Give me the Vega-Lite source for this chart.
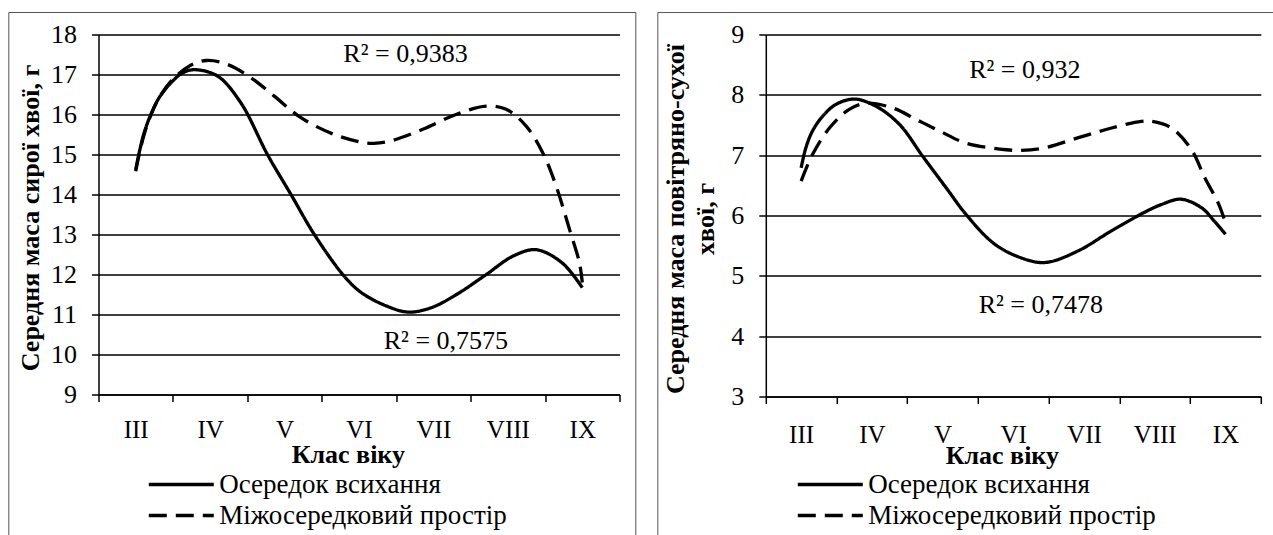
{
  "$schema": "https://vega.github.io/schema/vega-lite/v6.json",
  "padding": {"left": 7.5, "top": 11.5, "right": 0, "bottom": 0},
  "background": "white",
  "bounds": "flush",
  "spacing": 146.3,
  "config": {
    "view": {"stroke": null},
    "font": "Liberation Serif",
    "axis": {"labelFont": "Liberation Serif", "titleFont": "Liberation Serif", "labelColor": "black", "titleColor": "black", "tickColor": "black", "tickWidth": 1.5, "domainColor": "black", "domainWidth": 1.5, "gridColor": "black", "gridWidth": 1.5, "gridOpacity": 1},
    "legend": {"symbolType": "M-2.5,0L2.5,0", "symbolSize": 676, "symbolStrokeWidth": 3.3, "symbolStrokeColor": "black", "symbolFillColor": "transparent", "labelFont": "Liberation Serif", "labelFontSize": 27, "labelColor": "black", "labelOffset": 23, "rowPadding": 3, "padding": 0, "labelLimit": 0}
  },
  "datasets": {
    "fresh": [
      {"series": "Осередок всихання", "class": 3.0, "value": 14.62},
      {"series": "Осередок всихання", "class": 3.046, "value": 15.04},
      {"series": "Осередок всихання", "class": 3.113, "value": 15.54},
      {"series": "Осередок всихання", "class": 3.203, "value": 16.0},
      {"series": "Осередок всихання", "class": 3.315, "value": 16.42},
      {"series": "Осередок всихання", "class": 3.472, "value": 16.79},
      {"series": "Осередок всихання", "class": 3.63, "value": 17.04},
      {"series": "Осередок всихання", "class": 3.785, "value": 17.12},
      {"series": "Осередок всихання", "class": 4.1, "value": 16.96},
      {"series": "Осередок всихання", "class": 4.413, "value": 16.29},
      {"series": "Осередок всихання", "class": 4.77, "value": 15.0},
      {"series": "Осередок всихання", "class": 5.086, "value": 14.0},
      {"series": "Осередок всихання", "class": 5.4, "value": 13.0},
      {"series": "Осередок всихання", "class": 5.8, "value": 11.96},
      {"series": "Осередок всихання", "class": 6.03, "value": 11.55},
      {"series": "Осередок всихання", "class": 6.36, "value": 11.22},
      {"series": "Осередок всихання", "class": 6.66, "value": 11.06},
      {"series": "Осередок всихання", "class": 6.97, "value": 11.17},
      {"series": "Осередок всихання", "class": 7.31, "value": 11.5},
      {"series": "Осередок всихання", "class": 7.71, "value": 12.0},
      {"series": "Осередок всихання", "class": 8.07, "value": 12.46},
      {"series": "Осередок всихання", "class": 8.38, "value": 12.62},
      {"series": "Осередок всихання", "class": 8.73, "value": 12.29},
      {"series": "Осередок всихання", "class": 9.0, "value": 11.67},
      {"series": "Міжосередковий простір", "class": 3.0, "value": 14.58},
      {"series": "Міжосередковий простір", "class": 3.046, "value": 15.0},
      {"series": "Міжосередковий простір", "class": 3.113, "value": 15.5},
      {"series": "Міжосередковий простір", "class": 3.203, "value": 15.98},
      {"series": "Міжосередковий простір", "class": 3.315, "value": 16.42},
      {"series": "Міжосередковий простір", "class": 3.472, "value": 16.83},
      {"series": "Міжосередковий простір", "class": 3.718, "value": 17.21},
      {"series": "Міжосередковий простір", "class": 3.95, "value": 17.35},
      {"series": "Міжосередковий простір", "class": 4.235, "value": 17.25},
      {"series": "Міжосередковий простір", "class": 4.548, "value": 16.92},
      {"series": "Міжосередковий простір", "class": 4.861, "value": 16.46},
      {"series": "Міжосередковий простір", "class": 5.22, "value": 15.92},
      {"series": "Міжосередковий простір", "class": 5.668, "value": 15.5},
      {"series": "Міжосередковий простір", "class": 6.027, "value": 15.31},
      {"series": "Міжосередковий простір", "class": 6.2, "value": 15.28},
      {"series": "Міжосередковий простір", "class": 6.407, "value": 15.33},
      {"series": "Міжосередковий простір", "class": 6.857, "value": 15.63},
      {"series": "Міжосередковий простір", "class": 7.304, "value": 16.0},
      {"series": "Міжосередковий простір", "class": 7.71, "value": 16.21},
      {"series": "Міжосередковий простір", "class": 7.977, "value": 16.13},
      {"series": "Міжосередковий простір", "class": 8.246, "value": 15.71},
      {"series": "Міжосередковий простір", "class": 8.47, "value": 15.04},
      {"series": "Міжосередковий простір", "class": 8.649, "value": 14.21},
      {"series": "Міжосередковий простір", "class": 8.828, "value": 13.13},
      {"series": "Міжосередковий простір", "class": 8.962, "value": 12.29},
      {"series": "Міжосередковий простір", "class": 9.0, "value": 11.8}
    ],
    "dry": [
      {"series": "Осередок всихання", "class": 3.0, "value": 6.79},
      {"series": "Осередок всихання", "class": 3.066, "value": 7.12},
      {"series": "Осередок всихання", "class": 3.16, "value": 7.4},
      {"series": "Осередок всихання", "class": 3.3, "value": 7.64},
      {"series": "Осередок всихання", "class": 3.49, "value": 7.84},
      {"series": "Осередок всихання", "class": 3.75, "value": 7.93},
      {"series": "Осередок всихання", "class": 4.06, "value": 7.81},
      {"series": "Осередок всихання", "class": 4.39, "value": 7.51},
      {"series": "Осередок всихання", "class": 4.72, "value": 6.98},
      {"series": "Осередок всихання", "class": 5.05, "value": 6.46},
      {"series": "Осередок всихання", "class": 5.33, "value": 6.02},
      {"series": "Осередок всихання", "class": 5.71, "value": 5.55},
      {"series": "Осередок всихання", "class": 6.04, "value": 5.33},
      {"series": "Осередок всихання", "class": 6.44, "value": 5.22},
      {"series": "Осередок всихання", "class": 6.91, "value": 5.41},
      {"series": "Осередок всихання", "class": 7.38, "value": 5.74},
      {"series": "Осередок всихання", "class": 7.85, "value": 6.05},
      {"series": "Осередок всихання", "class": 8.09, "value": 6.18},
      {"series": "Осередок всихання", "class": 8.37, "value": 6.27},
      {"series": "Осередок всихання", "class": 8.66, "value": 6.13},
      {"series": "Осередок всихання", "class": 8.84, "value": 5.91},
      {"series": "Осередок всихання", "class": 9.0, "value": 5.69},
      {"series": "Міжосередковий простір", "class": 3.0, "value": 6.57},
      {"series": "Міжосередковий простір", "class": 3.16, "value": 7.01},
      {"series": "Міжосередковий простір", "class": 3.4, "value": 7.45},
      {"series": "Міжосередковий простір", "class": 3.68, "value": 7.76},
      {"series": "Міжосередковий простір", "class": 3.92, "value": 7.86},
      {"series": "Міжосередковий простір", "class": 4.3, "value": 7.78},
      {"series": "Міжосередковий простір", "class": 4.63, "value": 7.59},
      {"series": "Міжосередковий простір", "class": 4.96, "value": 7.4},
      {"series": "Міжосередковий простір", "class": 5.33, "value": 7.2},
      {"series": "Міжосередковий простір", "class": 5.9, "value": 7.09},
      {"series": "Міжосередковий простір", "class": 6.11, "value": 7.08},
      {"series": "Міжосередковий простір", "class": 6.44, "value": 7.12},
      {"series": "Міжосередковий простір", "class": 6.92, "value": 7.29},
      {"series": "Міжосередковий простір", "class": 7.39, "value": 7.45},
      {"series": "Міжосередковий простір", "class": 7.81, "value": 7.56},
      {"series": "Міжосередковий простір", "class": 7.96, "value": 7.56},
      {"series": "Міжосередковий простір", "class": 8.24, "value": 7.45},
      {"series": "Міжосередковий простір", "class": 8.52, "value": 7.09},
      {"series": "Міжосередковий простір", "class": 8.71, "value": 6.62},
      {"series": "Міжосередковий простір", "class": 8.9, "value": 6.2},
      {"series": "Міжосередковий простір", "class": 9.0, "value": 5.88}
    ]
  },
  "hconcat": [
    {
      "width": 521,
      "height": 360,
      "layer": [
        {
          "data": {"values": [{}]},
          "mark": {"type": "rule", "color": "#555555", "strokeWidth": 1},
          "encoding": {
            "x": {"datum": 1.295, "type": "quantitative", "scale": {"domain": [2.5, 9.5], "nice": false, "zero": false}},
            "x2": {"datum": 9.719},
            "y": {"datum": 18.55, "type": "quantitative", "scale": {"domain": [9, 18], "nice": false, "zero": false}}
          }
        },
        {
          "data": {"values": [{"edge": 1.295}, {"edge": 9.719}]},
          "mark": {"type": "rule", "color": "#555555", "strokeWidth": 1},
          "encoding": {
            "x": {"field": "edge", "type": "quantitative", "scale": {"domain": [2.5, 9.5], "nice": false, "zero": false}},
            "y": {"datum": 18.55, "type": "quantitative", "scale": {"domain": [9, 18], "nice": false, "zero": false}},
            "y2": {"datum": 5.475}
          }
        },
        {
          "data": {"name": "fresh"},
          "mark": {"type": "line", "color": "black", "strokeWidth": 3.3, "interpolate": "catmull-rom"},
          "encoding": {
            "x": {"field": "class", "type": "quantitative", "scale": {"domain": [2.5, 9.5], "nice": false, "zero": false},
              "axis": {"orient": "bottom", "grid": false, "values": [2.5, 3.5, 4.5, 5.5, 6.5, 7.5, 8.5, 9.5], "tickCount": 20, "tickSize": 7, "labelOffset": 37.2, "labelPadding": 15.5, "labelFontSize": 25, "labelFlush": false, "labelOverlap": false, "labelExpr": "datum.value < 3 ? 'III' : datum.value < 4 ? 'IV' : datum.value < 5 ? 'V' : datum.value < 6 ? 'VI' : datum.value < 7 ? 'VII' : datum.value < 8 ? 'VIII' : datum.value < 9 ? 'IX' : ''", "title": "Клас віку", "titleFontSize": 26, "titleFontWeight": "bold", "titleX": 249.3, "titleY": 47}},
            "y": {"field": "value", "type": "quantitative", "scale": {"domain": [9, 18], "nice": false, "zero": false},
              "axis": {"orient": "left", "grid": true, "values": [9, 10, 11, 12, 13, 14, 15, 16, 17, 18], "tickCount": 20, "format": "d", "tickSize": 7, "labelPadding": 15, "labelFontSize": 26, "labelOverlap": false, "title": "Середня  маса сирої хвої, г", "titleFontSize": 26, "titleFontWeight": "bold", "titleX": -55, "titleY": 183}},
            "strokeDash": {"field": "series", "type": "nominal", "scale": {"domain": ["Осередок всихання", "Міжосередковий простір"], "range": [[1, 0], [18, 9]]},
              "legend": {"title": null, "orient": "none", "legendX": 67.8, "legendY": 435, "labelFont": "Liberation Serif", "labelFontSize": 27}}
          }
        },
        {
          "data": {"values": [{}]},
          "mark": {"type": "text", "fontSize": 26, "font": "Liberation Serif", "color": "black"},
          "encoding": {
            "x": {"datum": 6.625, "type": "quantitative", "scale": {"domain": [2.5, 9.5], "nice": false, "zero": false}},
            "y": {"datum": 17.525, "type": "quantitative", "scale": {"domain": [9, 18], "nice": false, "zero": false}},
            "text": {"value": "R² = 0,9383"}
          }
        },
        {
          "data": {"values": [{}]},
          "mark": {"type": "text", "fontSize": 26, "font": "Liberation Serif", "color": "black"},
          "encoding": {
            "x": {"datum": 7.168, "type": "quantitative", "scale": {"domain": [2.5, 9.5], "nice": false, "zero": false}},
            "y": {"datum": 10.35, "type": "quantitative", "scale": {"domain": [9, 18], "nice": false, "zero": false}},
            "text": {"value": "R² = 0,7575"}
          }
        }
      ]
    },
    {
      "width": 495,
      "height": 362,
      "layer": [
        {
          "data": {"values": [{}]},
          "mark": {"type": "rule", "color": "#555555", "strokeWidth": 1},
          "encoding": {
            "x": {"datum": 0.973, "type": "quantitative", "scale": {"domain": [2.5, 9.5], "nice": false, "zero": false}},
            "x2": {"datum": 9.681},
            "y": {"datum": 9.364, "type": "quantitative", "scale": {"domain": [3, 9], "nice": false, "zero": false}}
          }
        },
        {
          "data": {"values": [{"edge": 0.973}, {"edge": 9.681}]},
          "mark": {"type": "rule", "color": "#555555", "strokeWidth": 1},
          "encoding": {
            "x": {"field": "edge", "type": "quantitative", "scale": {"domain": [2.5, 9.5], "nice": false, "zero": false}},
            "y": {"datum": 9.364, "type": "quantitative", "scale": {"domain": [3, 9], "nice": false, "zero": false}},
            "y2": {"datum": 0.696}
          }
        },
        {
          "data": {"name": "dry"},
          "mark": {"type": "line", "color": "black", "strokeWidth": 3.3, "interpolate": "catmull-rom"},
          "encoding": {
            "x": {"field": "class", "type": "quantitative", "scale": {"domain": [2.5, 9.5], "nice": false, "zero": false},
              "axis": {"orient": "bottom", "grid": false, "values": [2.5, 3.5, 4.5, 5.5, 6.5, 7.5, 8.5, 9.5], "tickCount": 20, "tickSize": 7, "labelOffset": 35.3, "labelPadding": 18.5, "labelFontSize": 25, "labelFlush": false, "labelOverlap": false, "labelExpr": "datum.value < 3 ? 'III' : datum.value < 4 ? 'IV' : datum.value < 5 ? 'V' : datum.value < 6 ? 'VI' : datum.value < 7 ? 'VII' : datum.value < 8 ? 'VIII' : datum.value < 9 ? 'IX' : ''", "title": "Клас віку", "titleFontSize": 26, "titleFontWeight": "bold", "titleX": 236, "titleY": 46}},
            "y": {"field": "value", "type": "quantitative", "scale": {"domain": [3, 9], "nice": false, "zero": false},
              "axis": {"orient": "left", "grid": true, "values": [3, 4, 5, 6, 7, 8, 9], "tickCount": 20, "format": "d", "tickSize": 7, "labelPadding": 15, "labelFontSize": 26, "labelOverlap": false, "title": ["Середня  маса повітряно-сухої", "хвої, г"], "titleFontSize": 26, "titleFontWeight": "bold", "titleLineHeight": 30.5, "titleX": -77.5, "titleY": 184}},
            "strokeDash": {"field": "series", "type": "nominal", "scale": {"domain": ["Осередок всихання", "Міжосередковий простір"], "range": [[1, 0], [18, 9]]},
              "legend": {"title": null, "orient": "none", "legendX": 49.5, "legendY": 435, "labelFont": "Liberation Serif", "labelFontSize": 27}}
          }
        },
        {
          "data": {"values": [{}]},
          "mark": {"type": "text", "fontSize": 26, "font": "Liberation Serif", "color": "black"},
          "encoding": {
            "x": {"datum": 6.163, "type": "quantitative", "scale": {"domain": [2.5, 9.5], "nice": false, "zero": false}},
            "y": {"datum": 8.405, "type": "quantitative", "scale": {"domain": [3, 9], "nice": false, "zero": false}},
            "text": {"value": "R² = 0,932"}
          }
        },
        {
          "data": {"values": [{}]},
          "mark": {"type": "text", "fontSize": 26, "font": "Liberation Serif", "color": "black"},
          "encoding": {
            "x": {"datum": 6.39, "type": "quantitative", "scale": {"domain": [2.5, 9.5], "nice": false, "zero": false}},
            "y": {"datum": 4.52, "type": "quantitative", "scale": {"domain": [3, 9], "nice": false, "zero": false}},
            "text": {"value": "R² = 0,7478"}
          }
        }
      ]
    }
  ],
  "resolve": {"scale": {"strokeDash": "independent"}, "legend": {"strokeDash": "independent"}}
}
